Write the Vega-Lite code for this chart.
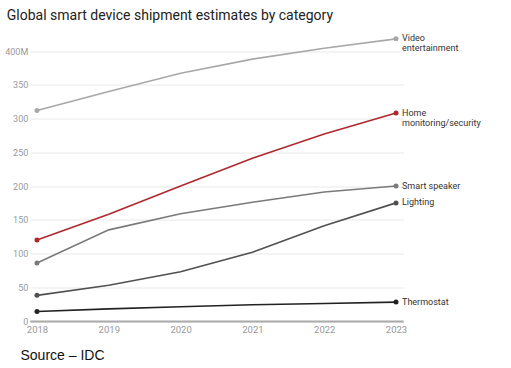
{
  "$schema": "https://vega.github.io/schema/vega-lite/v6.json",
  "width": 373.4,
  "height": 283.5,
  "autosize": {"type": "none"},
  "padding": {"left": 29.8, "top": 37.5, "right": 107.8, "bottom": 47},
  "background": "white",
  "title": {
    "text": "Global smart device shipment estimates by category",
    "anchor": "start",
    "frame": "group",
    "dx": -23,
    "offset": 11,
    "font": "Roboto",
    "fontSize": 14,
    "fontWeight": "normal",
    "color": "#222222"
  },
  "config": {
    "view": {"stroke": null},
    "font": "Roboto"
  },
  "data": {
    "values": [
      {"year": "2018", "category": "Video entertainment", "label": "Video\nentertainment", "value": 312},
      {"year": "2019", "category": "Video entertainment", "label": "Video\nentertainment", "value": 340},
      {"year": "2020", "category": "Video entertainment", "label": "Video\nentertainment", "value": 367},
      {"year": "2021", "category": "Video entertainment", "label": "Video\nentertainment", "value": 388},
      {"year": "2022", "category": "Video entertainment", "label": "Video\nentertainment", "value": 404},
      {"year": "2023", "category": "Video entertainment", "label": "Video\nentertainment", "value": 418},
      {"year": "2018", "category": "Home monitoring/security", "label": "Home\nmonitoring/security", "value": 120},
      {"year": "2019", "category": "Home monitoring/security", "label": "Home\nmonitoring/security", "value": 158},
      {"year": "2020", "category": "Home monitoring/security", "label": "Home\nmonitoring/security", "value": 200},
      {"year": "2021", "category": "Home monitoring/security", "label": "Home\nmonitoring/security", "value": 241},
      {"year": "2022", "category": "Home monitoring/security", "label": "Home\nmonitoring/security", "value": 277},
      {"year": "2023", "category": "Home monitoring/security", "label": "Home\nmonitoring/security", "value": 308},
      {"year": "2018", "category": "Smart speaker", "label": "Smart speaker", "value": 86},
      {"year": "2019", "category": "Smart speaker", "label": "Smart speaker", "value": 135},
      {"year": "2020", "category": "Smart speaker", "label": "Smart speaker", "value": 159},
      {"year": "2021", "category": "Smart speaker", "label": "Smart speaker", "value": 176},
      {"year": "2022", "category": "Smart speaker", "label": "Smart speaker", "value": 191},
      {"year": "2023", "category": "Smart speaker", "label": "Smart speaker", "value": 200},
      {"year": "2018", "category": "Lighting", "label": "Lighting", "value": 38},
      {"year": "2019", "category": "Lighting", "label": "Lighting", "value": 53},
      {"year": "2020", "category": "Lighting", "label": "Lighting", "value": 73},
      {"year": "2021", "category": "Lighting", "label": "Lighting", "value": 102},
      {"year": "2022", "category": "Lighting", "label": "Lighting", "value": 141},
      {"year": "2023", "category": "Lighting", "label": "Lighting", "value": 175},
      {"year": "2018", "category": "Thermostat", "label": "Thermostat", "value": 14},
      {"year": "2019", "category": "Thermostat", "label": "Thermostat", "value": 18},
      {"year": "2020", "category": "Thermostat", "label": "Thermostat", "value": 21},
      {"year": "2021", "category": "Thermostat", "label": "Thermostat", "value": 24},
      {"year": "2022", "category": "Thermostat", "label": "Thermostat", "value": 26},
      {"year": "2023", "category": "Thermostat", "label": "Thermostat", "value": 28}
    ]
  },
  "encoding": {
    "x": {
      "field": "year",
      "type": "ordinal",
      "scale": {"type": "point", "padding": 0.1},
      "axis": {
        "labelAngle": 0,
        "labelColor": "#999999",
        "labelFontSize": 9.5,
        "labelPadding": 3,
        "ticks": false,
        "domainColor": "#aaaaaa",
        "domainWidth": 2,
        "grid": false,
        "title": "Source – IDC",
        "titleFont": "Liberation Sans",
        "titleFontSize": 14,
        "titleFontWeight": "normal",
        "titleColor": "#111111",
        "titleAnchor": "start",
        "titleAlign": "left",
        "titleBaseline": "alphabetic",
        "titleX": -9.8,
        "titleY": 38
      }
    },
    "y": {
      "field": "value",
      "type": "quantitative",
      "scale": {"domain": [0, 420], "nice": false},
      "axis": {
        "values": [0, 50, 100, 150, 200, 250, 300, 350, 400],
        "labelExpr": "datum.value == 400 ? '400M' : datum.label",
        "labelColor": "#999999",
        "labelFontSize": 9,
        "labelPadding": 2,
        "ticks": false,
        "domain": false,
        "gridColor": "#e8e8e8",
        "gridWidth": 1,
        "title": null
      }
    },
    "color": {
      "field": "category",
      "type": "nominal",
      "legend": null,
      "scale": {
        "domain": ["Video entertainment", "Home monitoring/security", "Smart speaker", "Lighting", "Thermostat"],
        "range": ["#a8a8a8", "#b0282e", "#7a7a7a", "#505050", "#222222"]
      }
    }
  },
  "layer": [
    {
      "mark": {"type": "line", "interpolate": "linear", "strokeWidth": 1.6}
    },
    {
      "transform": [{"filter": "datum.year == '2018' || datum.year == '2023'"}],
      "mark": {"type": "circle", "size": 25, "opacity": 1}
    },
    {
      "transform": [{"filter": "datum.year == '2023'"}],
      "mark": {"type": "text", "align": "left", "baseline": "top", "dx": 6, "dy": -4.5, "fontSize": 9, "lineBreak": "\n", "lineHeight": 10, "color": "#333333"},
      "encoding": {
        "text": {"field": "label"},
        "color": {"value": "#333333"}
      }
    }
  ]
}
